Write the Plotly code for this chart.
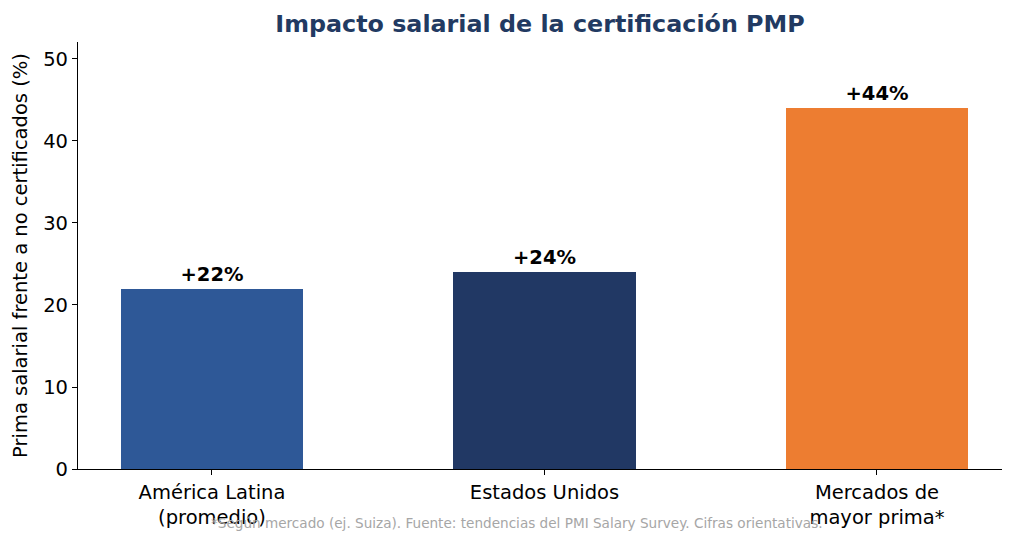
import plotly.graph_objects as go

categories = ["América Latina<br>(promedio)", "Estados Unidos", "Mercados de<br>mayor prima*"]
values = [22, 24, 44]
colors = ["#2E5897", "#213864", "#ED7D31"]
y_ticks = [0, 10, 20, 30, 40, 50]

fig = go.Figure()
fig.add_trace(go.Bar(
    x=list(range(len(categories))),
    y=values,
    marker=dict(color=colors, line=dict(width=0)),
    width=0.55,
    texttemplate="<b>+%{y:.0f}%</b>",
    textposition="outside",
    cliponaxis=False,
    textfont=dict(size=19.5, color="black", family="DejaVu Sans"),
))

fig.update_layout(
    width=1024, height=542,
    margin=dict(l=78, r=22, t=42, b=73),
    plot_bgcolor="white", paper_bgcolor="white",
    font=dict(family="DejaVu Sans", size=19.5, color="black"),
    showlegend=False,
    bargap=0,
    title=dict(text="<b>Impacto salarial de la certificación PMP</b>",
               x=0.5, xref="paper", xanchor="center",
               y=1 - 24/542, yref="container", yanchor="middle",
               font=dict(size=23.8, color="#223A62", family="DejaVu Sans")),
    xaxis=dict(
        tickmode="array", tickvals=list(range(len(categories))), ticktext=categories,
        range=[-0.403, 2.376], showline=True, linecolor="black", linewidth=1.2,
        ticks="outside", ticklen=5, tickcolor="black", showgrid=False, zeroline=False,
        tickfont=dict(size=19.5),
    ),
    yaxis=dict(
        range=[0, 52.07], tickvals=y_ticks, showline=True, linecolor="black", linewidth=1.2,
        ticks="outside", ticklen=5, tickcolor="black", showgrid=False, zeroline=False,
        title=dict(text="Prima salarial frente a no certificados (%)", font=dict(size=19.5), standoff=10),
        tickfont=dict(size=19.5),
    ),
    annotations=[dict(
        text="*Según mercado (ej. Suiza). Fuente: tendencias del PMI Salary Survey. Cifras orientativas.",
        x=(517 - 78) / 924, xref="paper", y=(469 - 523) / 427, yref="paper",
        xanchor="center", yanchor="middle", showarrow=False,
        font=dict(size=13.6, color="#A6A6A6", family="DejaVu Sans"),
    )],
)

fig.write_html("out.html")
